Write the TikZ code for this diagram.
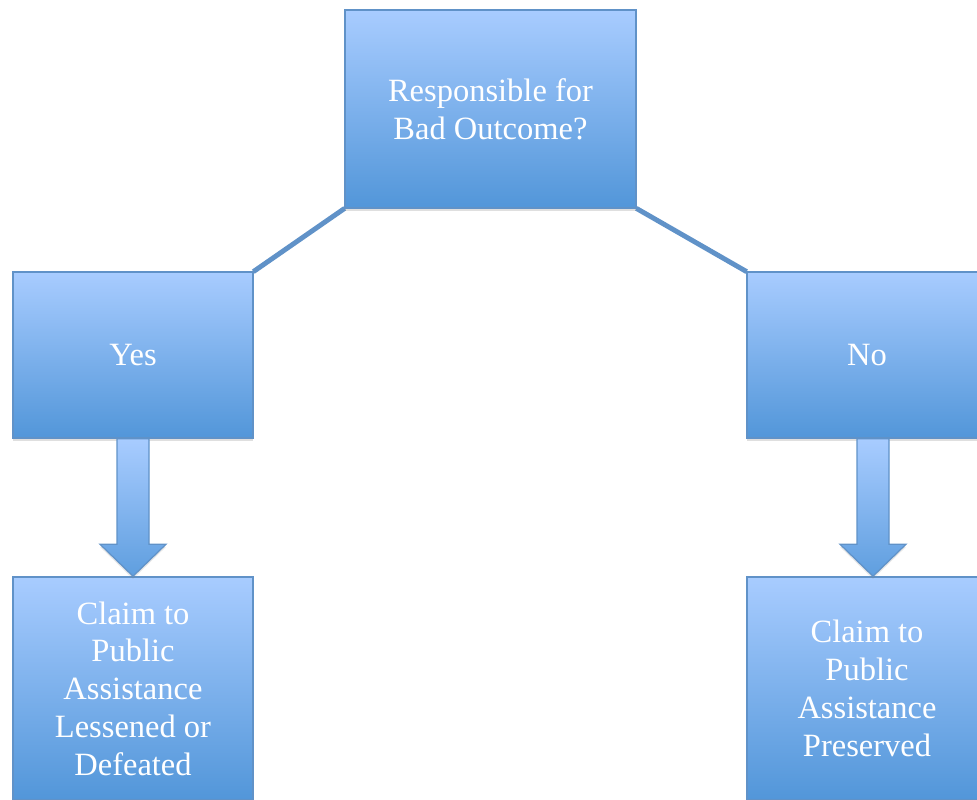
\documentclass[tikz,border=0pt]{standalone}
\usepackage{fontspec}
\setmainfont{Liberation Serif}
\usetikzlibrary{calc,shadows}
\definecolor{boxtop}{RGB}{168,204,255}
\definecolor{boxbottom}{RGB}{82,150,217}
\definecolor{boxline}{RGB}{96,146,200}
\tikzset{
  box/.style={rectangle, draw=boxline, line width=0.9pt, top color=boxtop, bottom color=boxbottom,
    text=white, align=center, font=\fontsize{18.5}{21.5}\selectfont,
    drop shadow={opacity=0.25, shadow xshift=0pt, shadow yshift=-1.5pt}},
  link/.style={draw=boxline, line width=2.8pt},
  blockarrow/.style={draw=boxline, line width=0.7pt, top color=boxtop, bottom color=boxbottom!85!boxtop,
    drop shadow={opacity=0.2, shadow xshift=0pt, shadow yshift=-1.5pt}}
}
\begin{document}
\begin{tikzpicture}[x=0.02cm, y=-0.02cm]
    \useasboundingbox (0,0) rectangle (977,799);
    \clip (0,0) rectangle (977,799);
    % question
    \coordinate (Qc) at (490.5,109);
    % answers
    \coordinate (Yc) at (133,355);
    \coordinate (Nc) at (867,355);
    % outcomes
    \coordinate (Lc) at (133,688.5);
    \coordinate (Pc) at (867,688.5);

    % connectors under the boxes
    \path (Qc) node[minimum width=5.82cm, minimum height=3.96cm] (Qb) {};
    \path (Yc) node[minimum width=4.8cm, minimum height=3.32cm] (Yb) {};
    \path (Nc) node[minimum width=4.8cm, minimum height=3.32cm] (Nb) {};
    \draw[link] (Qb.south west) -- (Yb.north east);
    \draw[link] (Qb.south east) -- (Nb.north west);

    % boxes
    \node[box, minimum width=5.82cm, minimum height=3.96cm] (Q) at (Qc) {Responsible for\\Bad Outcome?};
    \node[box, minimum width=4.8cm, minimum height=3.32cm] (Y) at (Yc) {Yes};
    \node[box, minimum width=4.8cm, minimum height=3.32cm] (N) at (Nc) {No};
    \node[box, minimum width=4.8cm, minimum height=4.46cm] (L) at (Lc) {Claim to\\Public\\Assistance\\Lessened or\\Defeated};
    \node[box, minimum width=4.8cm, minimum height=4.46cm] (P) at (Pc) {Claim to\\Public\\Assistance\\Preserved};

    % block arrows
    \path[blockarrow] ($(Y.south)+(-16,0)$) -- ($(Y.south)+(16,0)$) -- ($(L.north)+(16,-32)$)
      -- ($(L.north)+(33,-32)$) -- (L.north) -- ($(L.north)+(-33,-32)$) -- ($(L.north)+(-16,-32)$) -- cycle;
    \path[blockarrow] ($(N.south)+(-10,0)$) -- ($(N.south)+(22,0)$) -- ($(P.north)+(22,-32)$)
      -- ($(P.north)+(39,-32)$) -- ($(P.north)+(6,0)$) -- ($(P.north)+(-27,-32)$) -- ($(P.north)+(-10,-32)$) -- cycle;
  \end{tikzpicture}
\end{document}
